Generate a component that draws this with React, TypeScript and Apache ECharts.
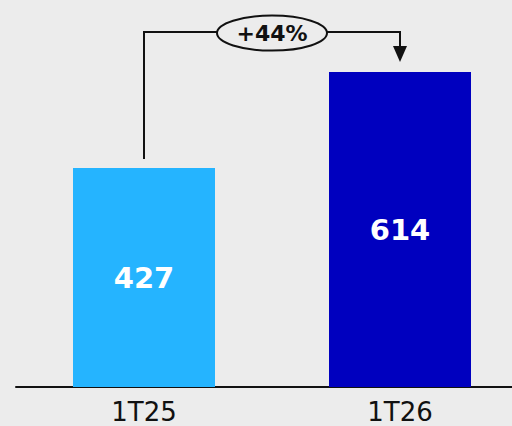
import React, { useEffect, useRef } from "react";
import * as echarts from "echarts";

const categories = ["1T25", "1T26"];
const values = [427, 614];
const barColors = ["#25b4ff", "#0000bf"];

export default function App() {
  const ref = useRef<HTMLDivElement>(null);
  useEffect(() => {
    if (!ref.current) return;
    const chart = echarts.init(ref.current, null, { renderer: "svg" });
    const font = "DejaVu Sans";
    chart.setOption({
      animation: false,
      backgroundColor: "#ececec",
      grid: { left: 16, right: 0, top: 28, bottom: 39, containLabel: false },
      xAxis: {
        type: "category",
        data: categories,
        axisLine: { show: true, lineStyle: { color: "#111", width: 2 } },
        axisTick: { show: false },
        axisLabel: { color: "#111", fontSize: 26, fontFamily: font, margin: 12, interval: 0 },
      },
      yAxis: { type: "value", min: 0, max: 700, show: false, splitLine: { show: false } },
      series: [
        {
          type: "bar",
          barWidth: 142,
          data: values.map((v, i) => ({ value: v, itemStyle: { color: barColors[i] } })),
          label: {
            show: true,
            position: "inside",
            color: "#fff",
            fontWeight: "bold",
            fontSize: 29,
            fontFamily: font,
          },
        },
      ],
    });
    const p1 = chart.convertToPixel({ gridIndex: 0 }, [0, values[0]]) as number[];
    const p2 = chart.convertToPixel({ gridIndex: 0 }, [1, values[1]]) as number[];
    const bridgeY = p2[1] - 40;
    const tipY = p2[1] - 10;
    const cx = (p1[0] + p2[0]) / 2;
    const rx = 55;
    const ry = 17.5;
    const pct = Math.round((values[1] / values[0] - 1) * 100);
    const stroke = { stroke: "#111", lineWidth: 2, fill: null };
    chart.setOption({
      graphic: [
        { type: "polyline", shape: { points: [[p1[0], p1[1] - 9], [p1[0], bridgeY], [cx - rx, bridgeY]] }, style: stroke },
        { type: "polyline", shape: { points: [[cx + rx, bridgeY], [p2[0], bridgeY], [p2[0], tipY - 14]] }, style: stroke },
        { type: "polygon", shape: { points: [[p2[0] - 7, tipY - 16], [p2[0] + 7, tipY - 16], [p2[0], tipY]] }, style: { fill: "#111" } },
        { type: "ellipse", shape: { cx, cy: bridgeY + 1, rx, ry }, style: { stroke: "#111", lineWidth: 2, fill: "#ececec" } },
        {
          type: "text",
          x: cx,
          y: bridgeY + 1,
          style: {
            text: `+${pct}%`,
            align: "center",
            verticalAlign: "middle",
            fontSize: 22,
            fontWeight: "bold",
            fontFamily: font,
            fill: "#111",
          },
        },
      ],
    });
    return () => chart.dispose();
  }, []);
  return <div ref={ref} style={{ position: "fixed", left: 0, top: 0, width: 528, height: 426 }} />;
}
